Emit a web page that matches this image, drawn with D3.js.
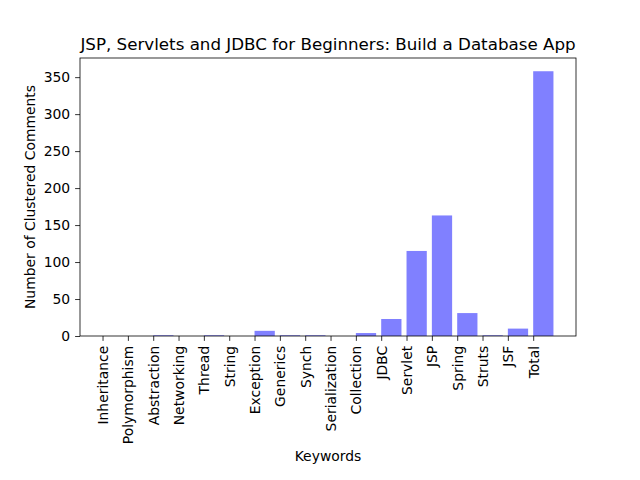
<!DOCTYPE html>
<html><head><meta charset="utf-8">
<script src="https://cdn.jsdelivr.net/npm/d3@7"></script>
<style>body{margin:0;background:#fff}svg{display:block}text{font-family:"DejaVu Sans",sans-serif}</style>
</head><body><svg id="c" width="640" height="480"></svg>
<script>
const categories = ["Inheritance","Polymorphism","Abstraction","Networking","Thread","String","Exception","Generics","Synch","Serialization","Collection","JDBC","Servlet","JSP","Spring","Struts","JSF","Total"];
const counts = [0,0,1,0,1,0,7,1,1,0,4,23,115,163,31,1,10,358];
const yTicks = [0,50,100,150,200,250,300,350];
const title = "JSP, Servlets and JDBC for Beginners: Build a Database App";
const xLabel = "Keywords";
const yLabel = "Number of Clustered Comments";

const svg = d3.select("#c");
const L=80,R=576,T=58,B=336;
const bw=0.8;
const n=categories.length;
const xm=(n-1+bw)*0.05;
const x=d3.scaleLinear().domain([-xm,n-1+bw+xm]).range([L,R]);
const ymax=d3.max(counts)*1.05;
const y=d3.scaleLinear().domain([0,ymax]).range([B,T]);

svg.append("g").selectAll("rect").data(counts).join("rect")
  .attr("x",(d,i)=>x(i)).attr("width",x(bw)-x(0))
  .attr("y",d=>y(d)).attr("height",d=>B-y(d))
  .attr("fill","#8080ff");

const xa=d3.axisBottom(x).tickValues(d3.range(n)).tickFormat(i=>categories[i]).tickSize(4.9).tickPadding(4.9);
const gx=svg.append("g").attr("transform",`translate(0,${B})`).call(xa);
gx.select(".domain").remove();
gx.selectAll("line").attr("stroke","#000").attr("stroke-width",0.8);
gx.selectAll("text").attr("font-size","13.9px").attr("fill","#000")
  .attr("transform","rotate(-90)").attr("text-anchor","end")
  .attr("x",-9.8).attr("y",0).attr("dy","0.35em");

const ya=d3.axisLeft(y).tickValues(yTicks).tickSize(4.9).tickPadding(4.9);
const gy=svg.append("g").attr("transform",`translate(${L},0)`).call(ya);
gy.select(".domain").remove();
gy.selectAll("line").attr("stroke","#000").attr("stroke-width",0.8);
gy.selectAll("text").attr("font-size","13.9px").attr("fill","#000");

svg.append("rect").attr("x",L).attr("y",T).attr("width",R-L).attr("height",B-T)
  .attr("fill","none").attr("stroke","#000").attr("stroke-width",0.8);

svg.append("text").attr("x",(L+R)/2).attr("y",T-8).attr("text-anchor","middle")
  .attr("font-size","16.7px").text(title);
svg.append("text").attr("x",(L+R)/2).attr("y",461).attr("text-anchor","middle")
  .attr("font-size","13.9px").text(xLabel);
svg.append("text").attr("transform",`translate(35,${(T+B)/2}) rotate(-90)`).attr("text-anchor","middle")
  .attr("font-size","13.9px").text(yLabel);
</script></body></html>
